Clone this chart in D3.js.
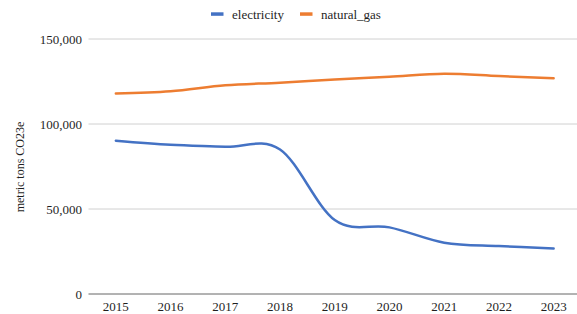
<!DOCTYPE html>
<meta charset="utf-8">
<style>
  body { margin: 0; background: #fff; }
  svg text { font-family: "Liberation Serif", "Times New Roman", serif; fill: #1f1f1f; }
</style>
<svg id="chart" width="577" height="314"></svg>
<script src="https://d3js.org/d3.v7.min.js"></script>
<script>
// data
var years = ["2015", "2016", "2017", "2018", "2019", "2020", "2021", "2022", "2023"]
var electricity = [90200, 87800, 86600, 85000, 43500, 39200, 30200, 28200, 26800]
var naturalGas = [118000, 119300, 122800, 124300, 126200, 127800, 129600, 128200, 126900]
var yTicks = [0, 50000, 100000, 150000]
var seriesNames = ["electricity", "natural_gas"]
var seriesColors = ["#4472C4", "#ED7D31"]

var svg = d3.select("#chart")
var plotLeft = 88.5, plotRight = 581, plotTop = 39, plotBottom = 294

var x = d3.scaleBand().domain(years).range([plotLeft, plotRight])
var y = d3.scaleLinear().domain([0, 150000]).range([plotBottom, plotTop])

// gridlines
svg.append("g").selectAll("line")
    .data(yTicks.filter(function(d){ return d > 0 }))
  .enter().append("line")
    .attr("x1", plotLeft).attr("x2", 577)
    .attr("y1", function(d){ return y(d) }).attr("y2", function(d){ return y(d) })
    .attr("stroke", "#d0d0d0").attr("stroke-width", 1)

// baseline
svg.append("line")
    .attr("x1", plotLeft).attr("x2", 577)
    .attr("y1", y(0)).attr("y2", y(0))
    .attr("stroke", "#666").attr("stroke-width", 1)

// y labels
svg.append("g").selectAll("text")
    .data(yTicks)
  .enter().append("text")
    .attr("x", 82).attr("y", function(d){ return y(d) })
    .attr("dy", "0.35em")
    .attr("text-anchor", "end")
    .style("font-size", "13px")
    .text(function(d){ return d3.format(",")(d) })

// x labels
svg.append("g").selectAll("text")
    .data(years)
  .enter().append("text")
    .attr("x", function(d){ return x(d) + x.bandwidth()/2 })
    .attr("y", 311)
    .attr("text-anchor", "middle")
    .style("font-size", "13px")
    .text(function(d){ return d })

// axis title
svg.append("text")
    .attr("transform", "translate(20,167) rotate(-90)")
    .attr("dy", "0.35em")
    .attr("text-anchor", "middle")
    .style("font-size", "12px")
    .text("metric tons CO23e")

var line = d3.line()
    .x(function(d, i){ return x(years[i]) + x.bandwidth()/2 })
    .y(function(d){ return y(d) })
    .curve(d3.curveCardinal.tension(0))

;[electricity, naturalGas].forEach(function(s, i){
  svg.append("path")
      .attr("d", line(s))
      .attr("fill", "none")
      .attr("stroke", seriesColors[i])
      .attr("stroke-width", 2.5)
      .attr("stroke-linecap", "round")
})

// legend
var legendX = [211, 300]
seriesNames.forEach(function(n, i){
  svg.append("rect")
      .attr("x", legendX[i]).attr("y", 12.3)
      .attr("width", 12.5).attr("height", 3.5)
      .attr("fill", seriesColors[i])
  svg.append("text")
      .attr("x", legendX[i] + 21).attr("y", 14)
      .attr("dy", "0.35em")
      .style("font-size", "13px")
      .text(n)
})
</script>
